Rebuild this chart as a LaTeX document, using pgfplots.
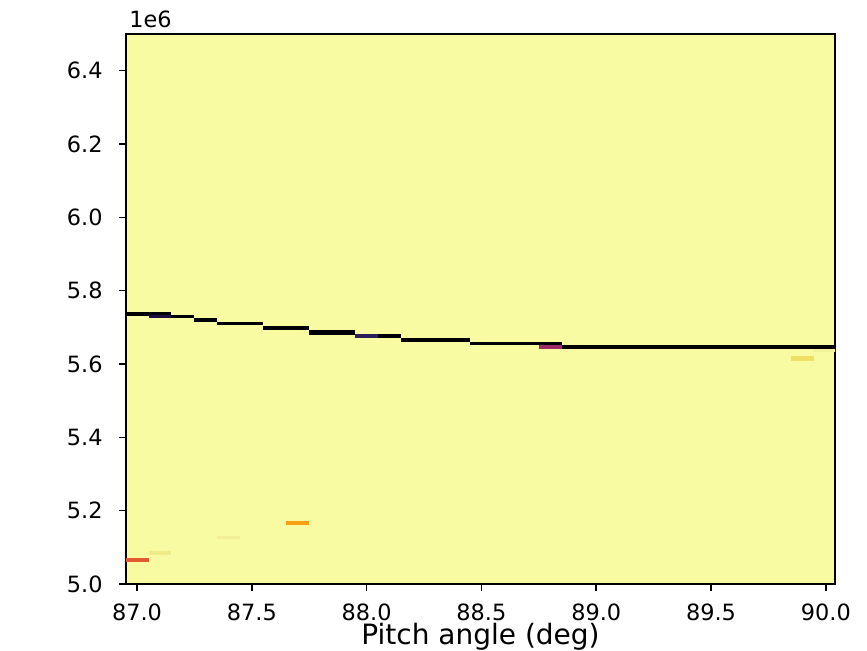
\documentclass[border=0pt]{standalone}
\usepackage{pgfplots}
\pgfplotsset{compat=1.18}
\usepackage{fontspec}
\setmainfont{DejaVu Sans}
\definecolor{bg}{HTML}{F8FBA2}
\definecolor{inkA}{HTML}{000004}
\definecolor{navyA}{HTML}{1B0C41}
\definecolor{navyB}{HTML}{2E1E5C}
\definecolor{magA}{HTML}{A02A63}
\definecolor{redA}{HTML}{E35932}
\definecolor{orgA}{HTML}{F9A012}
\definecolor{yelA}{HTML}{EFE063}
\definecolor{paleA}{HTML}{EEEA88}
\definecolor{paleB}{HTML}{F2EF98}
\definecolor{paleC}{HTML}{F1F39A}
\newcommand{\seg}[5]{\addplot[draw=none, fill=#5] coordinates {(#1,#3) (#2,#3) (#2,#4) (#1,#4)} -- cycle;}
\begin{document}
\begin{tikzpicture}
\useasboundingbox (-63pt,-33pt) rectangle (370.5pt,292pt);
\clip (-63pt,-33pt) rectangle (370.5pt,292pt);
\begin{axis}[
  at={(0,0)}, anchor=south west,
  scale only axis, width=354.5pt, height=275pt,
  xmin=86.952, xmax=90.04, ymin=5.0, ymax=6.5,
  xtick={87,87.5,88,88.5,89,89.5,90},
  ytick={5.0,5.2,5.4,5.6,5.8,6.0,6.2,6.4},
  xtick pos=bottom, ytick pos=left,
  tick align=outside, major tick length=3.5pt,
  tick style={black, line width=0.8pt},
  axis line style={line width=0.8pt},
  axis background/.style={fill=bg},
  clip mode=individual,
  scaled ticks=false,
  /pgf/number format/assume math mode=true,
  /pgf/number format/fixed,
  /pgf/number format/fixed zerofill,
  /pgf/number format/precision=1,
  tick label style={font=\fontsize{11.2}{13}\selectfont},
  xticklabel style={anchor=base, inner sep=0pt, yshift=-14.5pt},
  yticklabel style={anchor=east, inner sep=0pt, xshift=-8pt},
  xlabel={Pitch angle (deg)},
  xlabel style={font=\fontsize{14}{16}\selectfont, inner sep=0pt, at={(axis description cs:0.5,0)}, anchor=base, yshift=-30pt},
]
% stepped dark line
\seg{86.95}{87.05}{5.732}{5.741}{inkA}
\seg{87.05}{87.15}{5.733}{5.741}{inkA}
\seg{87.05}{87.15}{5.725}{5.733}{navyA}
\seg{87.15}{87.25}{5.725}{5.733}{inkA}
\seg{87.25}{87.35}{5.714}{5.725}{inkA}
\seg{87.35}{87.55}{5.706}{5.714}{inkA}
\seg{87.55}{87.75}{5.692}{5.703}{inkA}
\seg{87.75}{87.95}{5.679}{5.692}{inkA}
\seg{87.95}{88.05}{5.672}{5.681}{navyB}
\seg{88.05}{88.15}{5.672}{5.681}{inkA}
\seg{88.15}{88.45}{5.660}{5.672}{inkA}
\seg{88.45}{88.85}{5.653}{5.660}{inkA}
\seg{88.75}{88.85}{5.641}{5.653}{magA}
\seg{88.85}{90.05}{5.640}{5.653}{inkA}
\seg{89.85}{89.95}{5.609}{5.621}{yelA}
\seg{89.95}{90.05}{5.633}{5.640}{paleC}
% low segments
\seg{86.95}{87.05}{5.060}{5.072}{redA}
\seg{87.05}{87.15}{5.080}{5.091}{paleA}
\seg{87.35}{87.45}{5.123}{5.131}{paleB}
\seg{87.65}{87.75}{5.162}{5.173}{orgA}
\node[anchor=base west, inner sep=0pt, xshift=1.5pt, yshift=3.5pt, font=\fontsize{11.2}{13}\selectfont] at (rel axis cs:0,1) {1e6};
\end{axis}
\end{tikzpicture}
\end{document}
